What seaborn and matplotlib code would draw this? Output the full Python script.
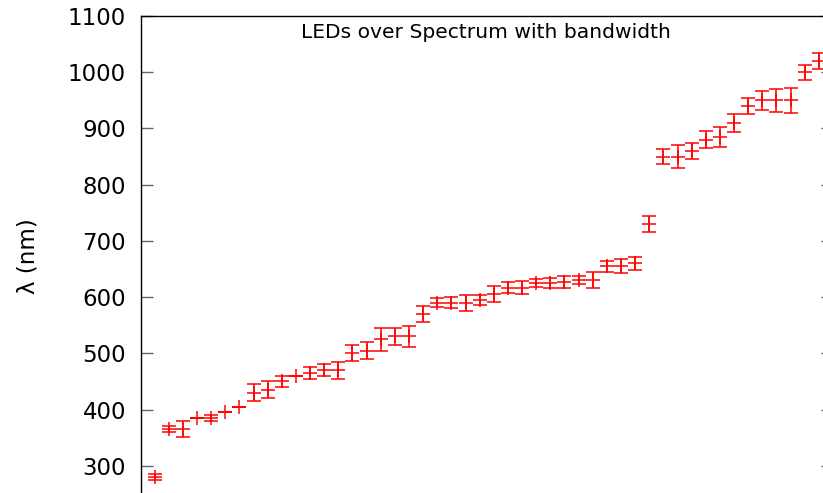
import numpy as np
import pandas as pd
import matplotlib
matplotlib.use("Agg")
import matplotlib.pyplot as plt
import seaborn as sns

# LED index along the x axis, peak wavelength and half bandwidth (nm)
led_index = list(range(1, 49))
wavelength = [280, 365, 365, 385, 385, 395, 405, 430, 435, 450, 460, 465,
              470, 470, 500, 505, 525, 530, 530, 570, 590, 590, 590, 595,
              605, 617, 617, 625, 625, 627, 630, 630, 655, 655, 660, 730,
              850, 850, 860, 880, 885, 910, 940, 950, 950, 950, 1000, 1020]
half_bandwidth = [6, 5, 14, 0, 6, 0, 0, 15, 15, 10, 0, 10,
                  11, 15, 14, 15, 20, 15, 18, 14, 8, 10, 14, 9,
                  14, 10, 11, 7, 9, 10, 7, 14, 10, 12, 12, 15,
                  14, 20, 15, 15, 18, 16, 14, 17, 21, 22, 13, 14]
y_ticks = list(range(300, 1101, 100))

df = pd.DataFrame({"led": led_index, "wl": wavelength, "bw": half_bandwidth})

sns.set_theme(style="ticks")
plt.rcParams["font.family"] = ["DejaVu Sans"]

W, H = 823, 493
fig = plt.figure(figsize=(W / 100, H / 100), dpi=100)
# plot box in pixels: left 140, right 833, top 16, bottom 522
left, right, top, bottom = 140.5, 833, 16, 522
ax = fig.add_axes([left / W, 1 - bottom / H, (right - left) / W, (bottom - top) / H])

ax.errorbar(df["led"], df["wl"], yerr=df["bw"], fmt="none", ecolor="#ff0000",
            elinewidth=1.1, capsize=5, capthick=1.1, zorder=3)
sns.scatterplot(data=df, x="led", y="wl", marker="+", s=100, color="#ff0000",
                linewidth=1.1, ax=ax, zorder=4, legend=False)

ax.set_xlim(0, 49)
ax.set_ylim(200, 1100)
ax.set_xticks([])
ax.set_yticks(y_ticks)
ax.set_xlabel("")
ax.set_ylabel("")
for s in ax.spines.values():
    s.set_visible(True)
    s.set_color("black")
    s.set_linewidth(1.0)
ax.tick_params(axis="y", which="both", direction="in", length=8.6, width=1.0,
               color="#666666", right=True, left=True, labelsize=16.5, pad=10.5,
               labelcolor="black")

fig.text(486 / W, 1 - 33 / H, "LEDs over Spectrum with bandwidth",
         ha="center", va="center", fontsize=14.6, color="black")
fig.text(28 / W, 1 - 256 / H, "λ (nm)", ha="center", va="center",
         rotation=90, fontsize=16.5, color="black")

fig.savefig("out.png", dpi=100)
